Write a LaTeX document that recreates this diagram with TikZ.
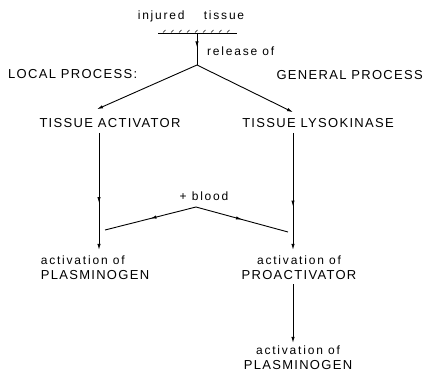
\documentclass[tikz,border=0pt]{standalone}
\usepackage{fontspec}
\setmainfont{Liberation Sans}[LetterSpace=10]
\newfontfamily\lowfont{Liberation Sans}[LetterSpace=15]
\usepackage{tikz}
\usetikzlibrary{arrows.meta,decorations.markings}

\begin{document}
\begin{tikzpicture}[
  x=1pt,y=-1pt,
  big/.style={inner sep=0pt,font=\fontsize{13}{15}\selectfont},
  low/.style={inner sep=0pt,font=\lowfont\fontsize{12}{13}\selectfont},
  two/.style={inner sep=0pt,align=center,font=\fontsize{13}{15}\selectfont},
  a/.style={-{Latex[length=6pt,width=3.4pt]},line width=0.9pt},
  ln/.style={line width=0.9pt},
  midarr/.style={postaction={decorate},decoration={markings,
    mark=at position #1 with {\arrow{Latex[length=6pt,width=3.4pt]}}}}
]
  \useasboundingbox (0,0) rectangle (426,375);
  % source
  \node[low] (inj) at (191,16) {injured\hspace{1.6em}tissue};
  \draw[ln] (158,33) -- (237,33);
  \foreach \t in {163,171,...,231} \draw[line width=0.4pt] (\t,32.5) -- ++(2.5,-2.5);
  \coordinate (src) at (197,33);
  \coordinate (split) at (197,65);
  \node[low,anchor=west] (rel) at (207,51) {release of};
  \draw[ln,midarr=0.45] (src) -- (split);
  % the two processes
  \node[big,anchor=west] (loc) at (8,74) {LOCAL PROCESS:};
  \node[big,anchor=east] (gen) at (423,75) {GENERAL PROCESS};
  \node[big] (ta) at (110,123) {TISSUE ACTIVATOR};
  \node[big] (tl) at (318,123) {TISSUE LYSOKINASE};
  \coordinate (lx) at (99,0);
  \coordinate (lt) at (97,0);
  \coordinate (rx) at (293,0);
  \draw[a] (split) -- ([yshift=9pt]ta.north -| lt);
  \draw[a] (split) -- ([yshift=6pt]tl.north -| rx);
  % blood
  \node[low] (blood) at (204,196) {+ blood};
  \coordinate (vtop) at (196,207);
  \coordinate (vl) at (105,230);
  \coordinate (vr) at (288,232);
  \draw[ln,midarr=0.5] (vtop) -- (vl);
  \draw[ln,midarr=0.5] (vtop) -- (vr);
  % activations
  \node[two,align=left] (pl1) at (95,268)
    {{\lowfont\fontsize{12}{13}\selectfont activation of}\\PLASMINOGEN};
  \node[two] (pro) at (299,268)
    {{\lowfont\fontsize{12}{13}\selectfont activation of}\\PROACTIVATOR};
  \node[two] (pl2) at (298,358)
    {{\lowfont\fontsize{12}{13}\selectfont activation of}\\PLASMINOGEN};
  \draw[a,midarr=0.6] ([yshift=-5pt]ta.south -| lx) -- ([yshift=6pt]pl1.north -| lx);
  \draw[a,midarr=0.63] ([yshift=-5pt]tl.south -| rx) -- ([yshift=6pt]pro.north -| rx);
  \draw[a] ([yshift=-4pt]pro.south -| rx) -- ([yshift=3pt]pl2.north -| rx);
\end{tikzpicture}
\end{document}
